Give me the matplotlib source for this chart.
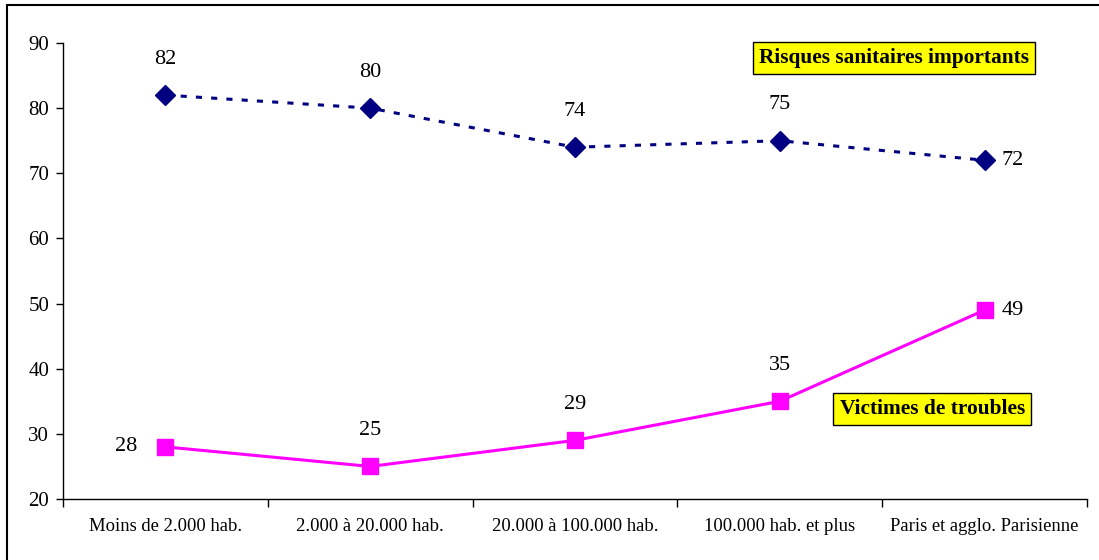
import matplotlib
matplotlib.use("Agg")
import matplotlib.pyplot as plt
from matplotlib.patches import Rectangle

categories = ["Moins de 2.000 hab.", "2.000 à 20.000 hab.", "20.000 à 100.000 hab.",
              "100.000 hab. et plus", "Paris et agglo. Parisienne"]
risques = [82, 80, 74, 75, 72]
victimes = [28, 25, 29, 35, 49]
yticks = [20, 30, 40, 50, 60, 70, 80, 90]

plt.rcParams['font.family'] = ['Liberation Serif', 'DejaVu Serif']

fig = plt.figure(figsize=(10.99, 5.6), dpi=100)
ax = fig.add_axes([63/1099, 1-499/560, (1087-63)/1099, (499-43)/560])

x = list(range(len(categories)))
ax.plot(x, risques, color='#000080', lw=2.2, ls=(0, (2.0, 3.0)), marker='D', ms=10,
        markeredgecolor='#000080', markerfacecolor='#000080')
ax.plot(x, victimes, color='#FF00FF', lw=2.2, marker='s', ms=11,
        markeredgecolor='#FF00FF', markerfacecolor='#FF00FF')

ax.set_xlim(-0.5, len(categories) - 0.5)
ax.set_ylim(20, 90)
ax.set_yticks(yticks)
ax.set_xticks(x)
ax.set_xticklabels(categories, fontsize=13.4)
ax.set_xticks([i - 0.5 for i in range(len(categories) + 1)], minor=True)
ax.tick_params(axis='x', which='major', length=0, pad=14)
ax.tick_params(axis='x', which='minor', length=6, direction='out', width=1)
ax.tick_params(axis='y', length=5, width=1, labelsize=15, pad=5)
for s in ['top', 'right']:
    ax.spines[s].set_visible(False)
for s in ['left', 'bottom']:
    ax.spines[s].set_linewidth(1)

# data labels
pos_r = ['above', 'above', 'above', 'above', 'right']
pos_v = ['left', 'above', 'above', 'above', 'right']
FS = 16
def lab(xi, yi, pos):
    if pos == 'above':
        ax.annotate(str(yi), (xi, yi), xytext=(0, 26), textcoords='offset points',
                    ha='center', va='center', fontsize=FS)
    elif pos == 'right':
        ax.annotate(str(yi), (xi, yi), xytext=(12, 0), textcoords='offset points',
                    ha='left', va='center', fontsize=FS)
    else:
        ax.annotate(str(yi), (xi, yi), xytext=(-20, 0), textcoords='offset points',
                    ha='right', va='center', fontsize=FS)
for xi, yi, p in zip(x, risques, pos_r):
    lab(xi, yi, p)
for xi, yi, p in zip(x, victimes, pos_v):
    lab(xi, yi, p)

box = dict(boxstyle='square,pad=0.3', facecolor='#FFFF00', edgecolor='black', lw=1)
fig.text(1029/1099, 1-58/560, "Risques sanitaires importants", ha='right', va='center',
         fontsize=15.4, fontweight='bold', bbox=box)
fig.text(1025/1099, 1-409/560, "Victimes de troubles", ha='right', va='center',
         fontsize=15.4, fontweight='bold', bbox=box)

# outer border
fig.patches.append(Rectangle((7/1099, -0.1), 1.2, 1.1 - 5/560,
                             transform=fig.transFigure, fill=False, edgecolor='black', lw=1.5))

fig.savefig("out.png", dpi=100)
